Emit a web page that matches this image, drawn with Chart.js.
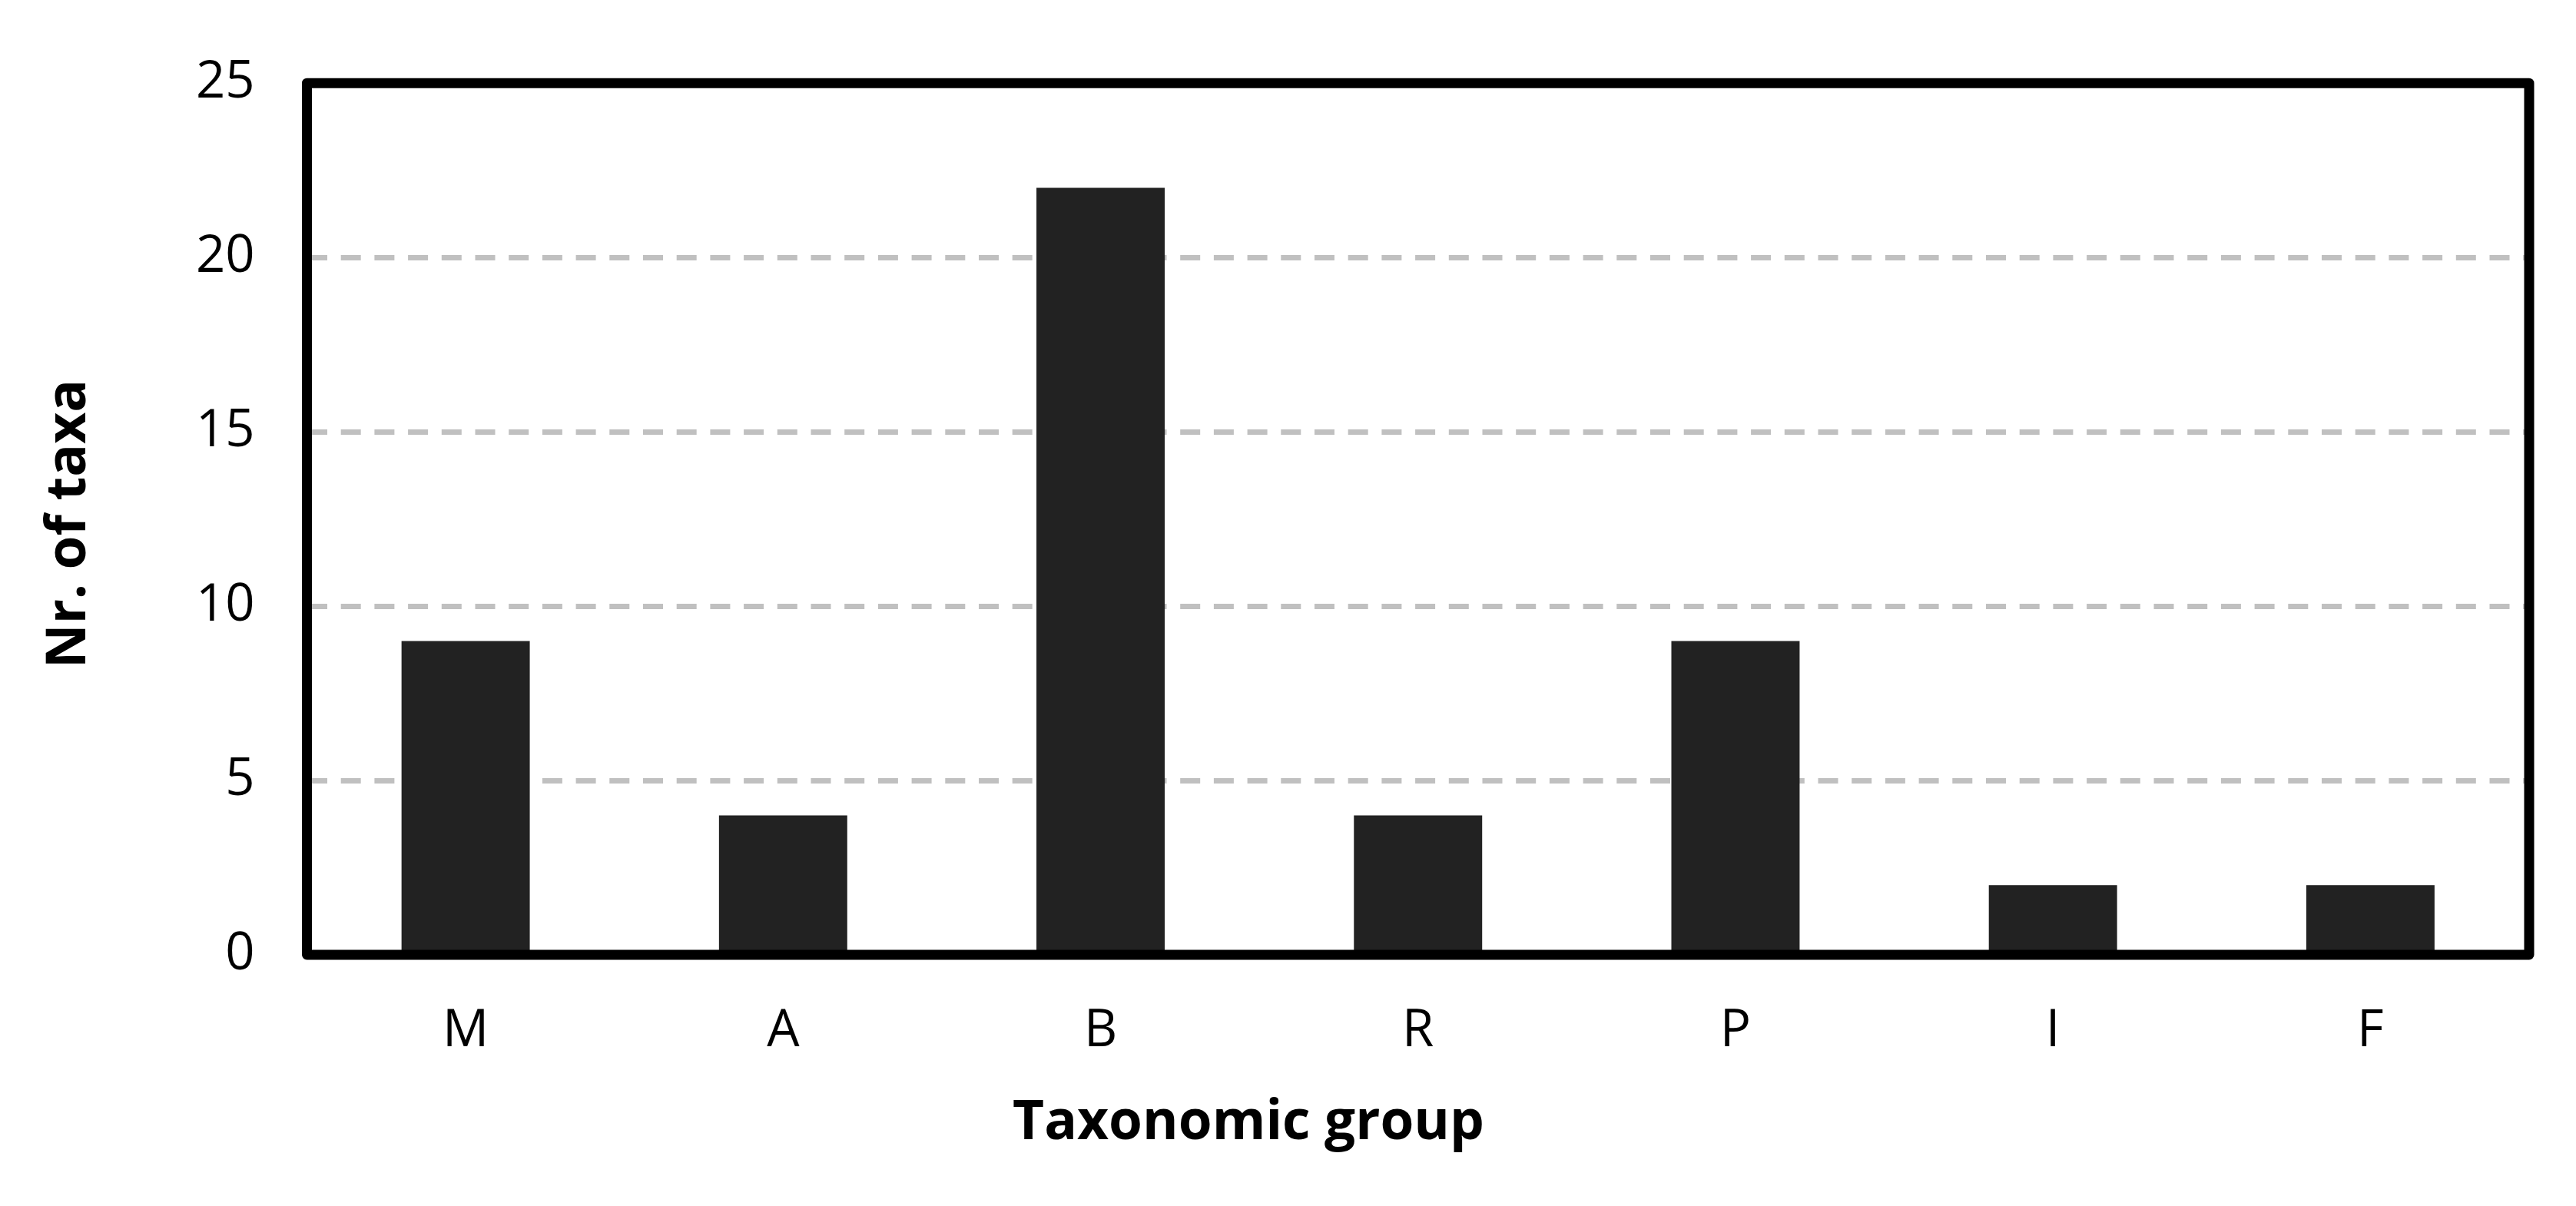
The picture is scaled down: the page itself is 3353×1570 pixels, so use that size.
<!DOCTYPE html>
<html>
<head>
<meta charset="utf-8">
<style>
  html, body { margin: 0; padding: 0; background: #ffffff; }
  canvas { display: block; }
</style>
<script src="https://cdn.jsdelivr.net/npm/chart.js@4/dist/chart.umd.min.js"></script>
</head>
<body>
<canvas id="c" width="3353" height="1570"></canvas>
<script>
const categories = ["M", "A", "B", "R", "P", "I", "F"];
const taxaCounts = [9, 4, 22, 4, 9, 2, 2];
const yTickValues = [0, 5, 10, 15, 20, 25];
const xAxisTitle = "Taxonomic group";
const yAxisTitle = "Nr. of taxa";

const TICK_FONT = { family: "'Open Sans', 'Noto Sans', sans-serif", size: 67 };
const TITLE_FONT = "bold 71px 'Open Sans', 'Noto Sans', sans-serif";

const framePlugin = {
  id: 'frameAndTitles',
  afterDraw(chart) {
    const ctx = chart.ctx;
    const a = chart.chartArea;
    ctx.save();
    ctx.lineWidth = 13;
    ctx.strokeStyle = '#000000';
    ctx.lineJoin = 'round';
    ctx.strokeRect(a.left, a.top, a.right - a.left, a.bottom - a.top);
    ctx.restore();

    ctx.save();
    ctx.fillStyle = '#000000';
    ctx.font = TITLE_FONT;
    ctx.textAlign = 'center';
    ctx.textBaseline = 'alphabetic';
    ctx.fillText(xAxisTitle, 1625, 1483);
    ctx.translate(111, 682);
    ctx.rotate(-Math.PI / 2);
    ctx.fillText(yAxisTitle, 0, 0);
    ctx.restore();
  }
};

new Chart(document.getElementById('c'), {
  type: 'bar',
  data: {
    labels: categories,
    datasets: [{
      data: taxaCounts,
      backgroundColor: '#222222',
      borderWidth: 0,
      categoryPercentage: 1.0,
      barPercentage: 0.404
    }]
  },
  options: {
    responsive: false,
    animation: false,
    devicePixelRatio: 1,
    layout: { padding: { top: 105, right: 61, left: 0, bottom: 0 } },
    plugins: { legend: { display: false }, tooltip: { enabled: false }, title: { display: false } },
    scales: {
      x: {
        grid: { display: false, drawTicks: false },
        border: { display: false },
        ticks: { color: '#000000', font: TICK_FONT, padding: 60, maxRotation: 0 },
        afterFit(scale) { scale.height = 327; }
      },
      y: {
        min: 0,
        max: 25,
        afterBuildTicks(scale) { scale.ticks = yTickValues.map(v => ({ value: v })); },
        grid: { color: '#c0c0c0', lineWidth: 7, drawTicks: false },
        border: { display: false, dash: [26, 17.7] },
        ticks: { color: '#000000', font: TICK_FONT, padding: 68 },
        afterFit(scale) { scale.width = 399.5; }
      }
    }
  },
  plugins: [framePlugin]
});
</script>
</body>
</html>
